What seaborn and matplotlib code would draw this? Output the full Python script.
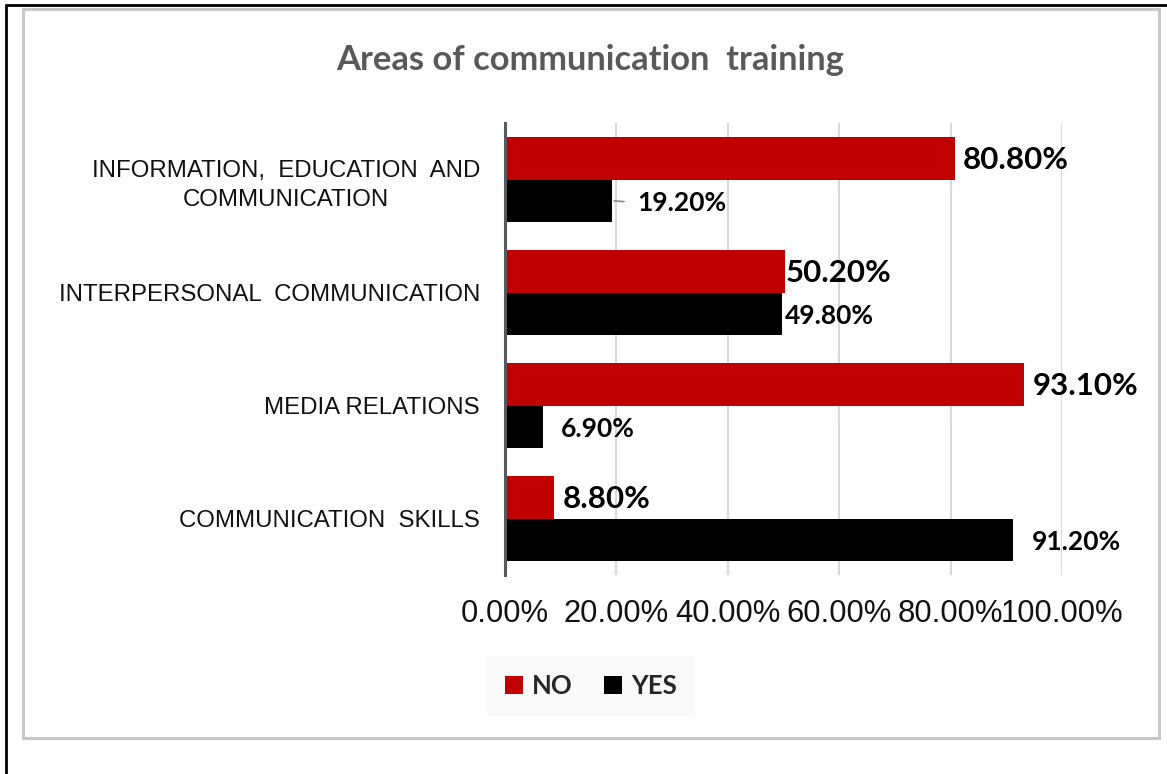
import matplotlib
matplotlib.use("Agg")
import matplotlib.pyplot as plt
import pandas as pd
import seaborn as sns
from matplotlib.lines import Line2D
from matplotlib.patches import Rectangle

palette = {"NO": "#c00000", "YES": "#000000"}

# Data (percent)
categories = ["INFORMATION,  EDUCATION  AND\nCOMMUNICATION",
              "INTERPERSONAL  COMMUNICATION",
              "MEDIA RELATIONS",
              "COMMUNICATION  SKILLS"]
no_pct = [80.8, 50.2, 93.1, 8.8]
yes_pct = [19.2, 49.8, 6.9, 91.2]
responses = ["NO", "YES"]
x_ticks = [0, 20, 40, 60, 80, 100]

df = pd.DataFrame({
    "Area": categories * 2,
    "Response": ["NO"] * len(categories) + ["YES"] * len(categories),
    "Percent": no_pct + yes_pct,
})

sns.set_style("white")
plt.rcParams["font.family"] = ["Liberation Sans", "DejaVu Sans"]

W, H = 1167, 774
fig = plt.figure(figsize=(W / 100, H / 100), dpi=100)
ax = fig.add_axes([505 / W, 1 - 575 / H, 557 / W, 452 / H])

sns.barplot(data=df, y="Area", x="Percent", hue="Response",
            hue_order=responses, palette=palette, orient="h",
            width=0.75, saturation=1, linewidth=0, ax=ax, zorder=3)

ax.set_xlim(0, 100)
ax.set_ylim(3.5, -0.5)
ax.set_xticks(x_ticks)
ax.set_xticklabels([f"{t:.2f}%" for t in x_ticks], fontsize=22.3, color="#111111")
ax.tick_params(axis="x", length=0, pad=17)
ax.tick_params(axis="y", length=0, pad=18, labelsize=17.3, labelcolor="#111111")
for lab in ax.get_yticklabels():
    lab.set_multialignment("center")
    lab.set_linespacing(1.4)
ax.set_xlabel("")
ax.set_ylabel("")

# Gridlines and spines
ax.grid(True, axis="x", color="#d9d9d9", linewidth=1.5, zorder=0)
for side in ["top", "right", "bottom"]:
    ax.spines[side].set_visible(False)
ax.spines["left"].set_color("#595959")
ax.spines["left"].set_linewidth(2.2)
ax.spines["left"].set_zorder(4)

# Value labels: per-label pixel offsets (manually placed in the original)
label_offsets = {"NO": [8, 1, 9, 9], "YES": [25, 3, 17, 19]}
label_sizes = {"NO": 22.5, "YES": 19}
for container, resp in zip(ax.containers, responses):
    vals = no_pct if resp == "NO" else yes_pct
    for bar, val, off in zip(container.patches, vals, label_offsets[resp]):
        yc = bar.get_y() + bar.get_height() / 2
        arrow = None
        if resp == "YES" and off > 20:
            arrow = dict(arrowstyle="-", color="#8c8c8c", lw=1.2,
                         relpos=(0, 0.5), shrinkA=7, shrinkB=1.5)
        ax.annotate(f"{val:.2f}%", xy=(bar.get_width(), yc),
                    xytext=(off, -2), textcoords="offset pixels",
                    ha="left", va="center", fontsize=label_sizes[resp],
                    fontweight="bold", family=["Lato", "DejaVu Sans"],
                    color="#000000", arrowprops=arrow, annotation_clip=False)

# Legend
handles, labels = ax.get_legend_handles_labels()
ax.legend_.remove()
leg = fig.legend(handles, labels, loc="center", bbox_to_anchor=(591 / W, 1 - 686 / H),
                 ncol=2, frameon=True, facecolor="#f8f8f8", edgecolor="none",
                 fancybox=False, handlelength=0.7, handleheight=0.7,
                 handletextpad=0.35, columnspacing=1.2, borderpad=0.7,
                 prop={"family": ["Lato", "DejaVu Sans"], "weight": "bold", "size": 18.5})

# Title
fig.text(590 / W, 1 - 60 / H, "Areas of communication  training", ha="center", va="center",
         fontsize=24.8, fontweight="bold", color="#595959", family=["Lato", "DejaVu Sans"])

# Chart area border and outer frame
fig.add_artist(Rectangle((23 / W, 1 - 738 / H), (1159 - 23) / W, (738 - 9) / H,
                         transform=fig.transFigure, fill=False,
                         edgecolor="#c8c8c8", linewidth=2.2))
fig.add_artist(Line2D([6 / W, 1], [1 - 5 / H, 1 - 5 / H], transform=fig.transFigure,
                      color="black", linewidth=2))
fig.add_artist(Line2D([6 / W, 6 / W], [0, 1 - 5 / H], transform=fig.transFigure,
                      color="black", linewidth=2))

fig.savefig("out.png", dpi=100)
